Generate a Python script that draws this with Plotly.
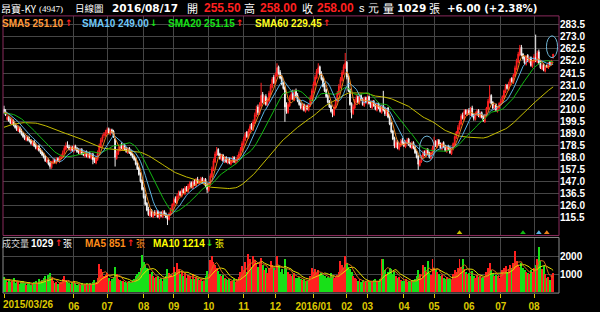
import numpy as np
import pandas as pd
import plotly.graph_objects as go

# ---------------- data ----------------
month_labels = ["2015/03/26", "", "", "06", "07", "08", "09", "10", "11", "12",
                "2016/01", "02", "03", "04", "05", "06", "07", "08"]
month_days = [4, 20, 20, 21, 23, 19, 22, 22, 20, 24, 21, 13, 23, 19, 22, 20, 21, 13]

price_ticks = [115.5, 126.0, 136.5, 147.0, 157.5, 168.0, 178.5, 189.0, 199.5,
               210.0, 220.5, 231.0, 241.5, 252.0, 262.5, 273.0, 283.5]
vol_ticks = [1000, 2000]

pre_close = [171, 173, 172, 175, 174, 177, 176, 178, 177, 179,
             180, 178, 181, 183, 182, 184, 185, 183, 186, 185,
             192, 191, 193, 195, 194, 196, 195, 197, 196, 198,
             197, 199, 198, 200, 199, 201, 200, 202, 201, 203,
             202, 204, 203, 205, 204, 206, 205, 207, 206, 208,
             207, 209, 208, 210, 206, 208, 205, 209, 208]

close = [207, 205, 203, 200, 198, 201, 196, 194, 192, 194,
         190, 188, 186, 184, 185, 183, 182, 180, 181, 178,
         176, 177, 174, 172, 170, 168, 165, 166, 162, 160,
         163, 165, 164, 166, 165, 167, 169, 172, 176, 178,
         177, 175, 176, 174, 177, 175, 173, 172, 174, 171,
         170, 172, 169, 171, 168, 170, 166, 164, 167, 172,
         178, 183, 186, 188, 190, 192, 189, 191, 190, 186,
         168, 172, 175, 177, 176, 178, 175, 173, 175, 172,
         170, 168, 166, 162, 158, 153, 147, 140, 133, 127,
         122, 118, 121, 117, 119, 118, 120, 116, 119, 117,
         120, 118, 116, 114, 119, 123, 127, 131, 129, 134,
         137, 135, 139, 137, 141, 139, 143, 145, 142, 146,
         144, 148, 146, 147, 149, 146, 148, 143, 140, 145,
         152, 158, 165, 171, 174, 170, 167, 169, 165, 167,
         164, 166, 163, 165, 167, 164, 166, 168, 171, 175,
         180, 184, 188, 186, 191, 195, 193, 199, 205, 210,
         207, 214, 222, 216, 220, 214, 218, 224, 230, 236,
         233, 240, 246, 241, 237, 232, 228, 212, 208, 214,
         220, 223, 219, 225, 221, 217, 214, 211, 213, 209,
         212, 210, 214, 220, 226, 232, 238, 243, 246, 240,
         236, 230, 226, 221, 216, 212, 208, 206, 212, 218,
         224, 230, 236, 242, 247, 250, 238, 226, 214, 207,
         212, 217, 220, 216, 221, 218, 214, 219, 216, 220,
         215, 212, 216, 213, 210, 214, 211, 208, 212, 209,
         206, 210, 203, 197, 190, 184, 178, 181, 176, 179,
         182, 180, 178, 181, 183, 179, 177, 180, 176, 172,
         168, 162, 165, 169, 172, 170, 174, 171, 168, 172,
         176, 181, 178, 182, 179, 176, 180, 177, 174, 177,
         175, 172, 176, 180, 186, 190, 194, 198, 204, 202,
         208, 206, 208, 206, 210, 204, 202, 206, 208, 204,
         206, 203, 200, 205, 211, 217, 221, 215, 211, 213,
         209, 212, 215, 217, 221, 226, 230, 228, 232, 236,
         234, 240, 246, 252, 258, 263, 257, 254, 250, 256,
         252, 254, 248, 252, 256, 252, 259, 250, 246, 248,
         244, 246.5, 247, 250, 248.5, 252, 258]

open_ = [210, 208, 201, 203, 200, 197, 200, 196, 195, 191,
         194, 191, 189, 187, 183, 186, 184, 183, 179, 182,
         179, 175, 178, 175, 173, 171, 169, 164, 166, 163,
         159, 163, 166, 163, 167, 164, 167, 168, 172, 175,
         179, 177, 174, 177, 173, 178, 176, 174, 171, 175,
         172, 169, 173, 168, 172, 167, 171, 167, 163, 166,
         171, 177, 182, 187, 187, 189, 193, 188, 192, 191,
         184, 167, 171, 174, 179, 175, 179, 176, 172, 176,
         173, 171, 169, 167, 163, 159, 154, 148, 141, 134,
         128, 123, 117, 122, 116, 120, 117, 121, 115, 120,
         116, 121, 119, 117, 114, 118, 122, 126, 132, 128,
         133, 138, 134, 140, 136, 142, 138, 142, 146, 141,
         147, 143, 149, 145, 146, 150, 145, 149, 144, 139,
         144, 151, 157, 164, 170, 175, 171, 166, 170, 164,
         168, 163, 167, 162, 164, 168, 163, 165, 167, 170,
         174, 179, 183, 190, 185, 190, 197, 192, 198, 204,
         212, 206, 213, 223, 215, 221, 213, 217, 223, 229,
         238, 232, 239, 247, 242, 238, 233, 229, 214, 207,
         213, 219, 224, 218, 226, 222, 218, 215, 210, 214,
         208, 213, 209, 213, 219, 225, 231, 237, 242, 247,
         241, 237, 231, 227, 222, 217, 213, 209, 205, 211,
         217, 223, 229, 235, 241, 246, 251, 239, 227, 215,
         206, 211, 216, 221, 215, 222, 219, 213, 220, 215,
         221, 216, 211, 217, 214, 209, 215, 212, 207, 213,
         210, 205, 211, 204, 198, 191, 185, 177, 182, 175,
         178, 183, 181, 177, 180, 184, 180, 176, 181, 177,
         173, 169, 161, 164, 168, 173, 169, 175, 172, 167,
         171, 175, 182, 177, 183, 180, 175, 181, 178, 173,
         178, 176, 171, 175, 179, 185, 189, 193, 197, 205,
         201, 209, 205, 209, 205, 211, 205, 201, 205, 209,
         203, 207, 204, 199, 204, 210, 216, 222, 216, 210,
         214, 208, 211, 214, 216, 220, 225, 231, 227, 231,
         237, 233, 239, 245, 251, 257, 264, 258, 255, 249,
         257, 251, 255, 247, 251, 255, 251, 260, 251, 245,
         249, 243, 248, 246, 251, 249, 255.5]

high = [213, 210, 205, 204, 202, 203, 201, 198, 196, 196,
        195, 193, 190, 188, 187, 187, 186, 184, 183, 183,
        181, 179, 179, 176, 174, 172, 170, 168, 167, 164,
        165, 167, 167, 168, 168, 169, 171, 174, 178, 181,
        182, 179, 178, 178, 179, 179, 177, 176, 176, 176,
        173, 174, 174, 173, 173, 172, 172, 168, 169, 174,
        180, 185, 188, 190, 192, 194, 194, 193, 193, 192,
        185, 174, 177, 179, 181, 180, 180, 177, 177, 177,
        175, 172, 170, 168, 164, 160, 155, 149, 142, 136,
        129, 125, 123, 123, 121, 122, 122, 122, 121, 121,
        122, 122, 120, 118, 120, 124, 128, 133, 134, 136,
        139, 139, 141, 141, 143, 143, 145, 147, 147, 148,
        149, 150, 151, 149, 151, 151, 150, 150, 145, 146,
        154, 160, 167, 173, 177, 176, 172, 171, 171, 169,
        169, 168, 168, 166, 169, 169, 167, 170, 173, 177,
        182, 186, 190, 191, 193, 197, 198, 201, 207, 213,
        214, 216, 233, 225, 222, 223, 220, 226, 232, 238,
        240, 242, 250, 248, 244, 240, 234, 230, 216, 216,
        222, 226, 227, 227, 228, 224, 219, 216, 215, 215,
        214, 214, 215, 222, 228, 234, 240, 245, 250, 248,
        243, 238, 233, 228, 223, 218, 214, 210, 214, 220,
        226, 232, 238, 244, 249, 259, 252, 240, 228, 216,
        214, 219, 223, 222, 223, 223, 220, 221, 221, 222,
        222, 217, 218, 218, 215, 216, 216, 213, 214, 226,
        212, 211, 212, 205, 199, 192, 186, 183, 183, 181,
        184, 185, 182, 183, 185, 185, 181, 182, 182, 178,
        174, 170, 166, 170, 174, 174, 176, 176, 173, 173,
        178, 186, 183, 184, 184, 181, 181, 182, 179, 178,
        179, 177, 177, 181, 187, 191, 196, 200, 206, 207,
        210, 210, 210, 211, 212, 213, 206, 208, 210, 210,
        208, 208, 205, 206, 212, 219, 231, 223, 217, 214,
        215, 213, 216, 219, 222, 227, 232, 232, 234, 237,
        238, 241, 248, 254, 260, 266, 266, 259, 256, 257,
        258, 256, 256, 253, 258, 275, 261, 262, 253, 250,
        250, 248, 249, 251, 252, 253, 258]

low = [206, 204, 200, 199, 197, 196, 195, 193, 191, 190,
       189, 187, 185, 183, 182, 182, 181, 179, 178, 177,
       175, 174, 173, 171, 169, 167, 164, 163, 161, 158,
       158, 162, 163, 162, 164, 163, 166, 167, 171, 174,
       176, 174, 173, 173, 172, 174, 172, 171, 170, 170,
       169, 168, 168, 167, 167, 166, 162, 163, 162, 165,
       170, 176, 181, 185, 186, 188, 188, 187, 189, 185,
       160, 166, 170, 173, 175, 174, 174, 172, 171, 171,
       169, 167, 165, 161, 157, 152, 146, 139, 132, 126,
       121, 117, 116, 116, 115, 117, 116, 115, 114, 116,
       115, 117, 115, 109, 113, 117, 121, 125, 128, 127,
       132, 134, 133, 136, 135, 138, 137, 141, 141, 140,
       143, 142, 145, 144, 145, 145, 144, 142, 137, 138,
       143, 150, 156, 163, 169, 169, 166, 165, 164, 163,
       163, 162, 162, 161, 163, 163, 162, 164, 166, 169,
       173, 178, 182, 185, 184, 189, 192, 191, 197, 203,
       205, 205, 212, 215, 214, 213, 212, 216, 222, 228,
       232, 231, 238, 240, 236, 231, 227, 199, 206, 206,
       212, 218, 218, 217, 220, 216, 213, 210, 209, 208,
       207, 209, 208, 212, 218, 224, 230, 236, 241, 239,
       235, 229, 225, 220, 215, 211, 207, 203, 204, 210,
       216, 222, 228, 234, 240, 245, 236, 225, 213, 202,
       205, 210, 215, 215, 214, 217, 213, 212, 215, 214,
       214, 211, 210, 212, 209, 208, 210, 207, 206, 208,
       204, 204, 202, 196, 189, 183, 176, 176, 175, 174,
       177, 179, 177, 176, 179, 178, 176, 175, 175, 171,
       167, 157, 160, 163, 167, 169, 168, 170, 167, 166,
       170, 174, 177, 176, 178, 175, 174, 176, 173, 172,
       174, 171, 170, 174, 178, 184, 188, 192, 196, 201,
       200, 205, 204, 205, 204, 203, 200, 200, 204, 203,
       202, 202, 199, 198, 203, 209, 215, 214, 210, 209,
       208, 207, 210, 213, 215, 219, 224, 227, 226, 230,
       233, 232, 238, 244, 250, 256, 256, 253, 249, 248,
       251, 250, 247, 246, 250, 251, 250, 249, 245, 244,
       243, 242, 246, 245, 248, 248, 254]

pre_volume = [700, 650, 820, 580, 900, 760, 620, 680, 740]

volume = [820, 640, 560, 700, 520, 610, 740, 480, 530, 600,
          450, 520, 610, 480, 390, 440, 520, 380, 460, 540,
          620, 480, 700, 560, 650, 760, 880, 540, 920, 1050,
          780, 620, 480, 520, 410, 460, 530, 720, 850, 640,
          520, 480, 410, 560, 620, 470, 390, 420, 350, 460,
          380, 420, 510, 360, 470, 380, 560, 640, 480, 760,
          1550, 1280, 1100, 860, 920, 1040, 780, 620, 710, 840,
          1380, 960, 720, 650, 580, 620, 540, 480, 520, 610,
          560, 640, 720, 850, 980, 1120, 1350, 2050, 1650, 1480,
          1320, 1250, 980, 1100, 860, 760, 820, 900, 680, 740,
          620, 780, 860, 1240, 1050, 920, 880, 1400, 1100, 1600,
          1250, 980, 1120, 860, 1020, 780, 940, 860, 720, 980,
          680, 820, 760, 640, 720, 580, 620, 900, 1150, 980,
          1780, 2000, 1650, 1500, 1320, 1180, 980, 860, 920, 780,
          720, 640, 680, 580, 620, 700, 560, 640, 820, 1100,
          1450, 1200, 1650, 1100, 2100, 1800, 1400, 2000, 1750, 1600,
          1400, 1650, 1900, 1500, 1200, 1350, 1050, 1300, 1700, 1500,
          1350, 1200, 2000, 1500, 1100, 1250, 980, 1800, 1350, 1100,
          980, 860, 920, 1050, 780, 740, 820, 680, 640, 720,
          600, 580, 640, 900, 1330, 1100, 1250, 1050, 1200, 980,
          1050, 920, 880, 760, 840, 780, 1020, 900, 760, 880,
          940, 1100, 1700, 1500, 1350, 2000, 1600, 1400, 1250, 1100,
          900, 760, 680, 620, 720, 560, 640, 520, 600, 540,
          620, 580, 520, 640, 720, 560, 600, 680, 1850, 1800,
          1200, 980, 1100, 1350, 1250, 1000, 1150, 880, 760, 820,
          640, 580, 620, 700, 540, 600, 520, 580, 640, 720,
          860, 1200, 980, 760, 1500, 1400, 1100, 1700, 1050, 920,
          1800, 1300, 1250, 1100, 980, 860, 920, 760, 700, 820,
          680, 720, 640, 980, 1200, 1100, 1300, 1850, 1400, 1800,
          1250, 1100, 980, 1050, 900, 1150, 860, 780, 940, 820,
          880, 760, 820, 900, 1100, 1350, 1600, 1200, 1000, 880,
          920, 860, 780, 1000, 1200, 1350, 1450, 1100, 1250, 1500,
          1300, 1600, 2280, 1700, 1500, 1400, 1600, 1300, 1200, 1100,
          1050, 980, 1200, 1100, 1350, 1500, 1800, 2480, 1700, 1275,
          1430, 1000, 780, 820, 676, 950, 1029]

# ---------------- derived ----------------
n = min(len(close), len(open_), len(high), len(low), len(volume))
close, open_, high, low, volume = close[:n], open_[:n], high[:n], low[:n], volume[:n]
xi = np.arange(n)

pc = pd.Series(pre_close + close, dtype=float)
P = len(pre_close)
sma = {k: pc.rolling(k).mean().to_numpy()[P:] for k in (5, 10, 20, 60)}
pv = pd.Series(pre_volume + volume, dtype=float)
Q = len(pre_volume)
vma5 = pv.rolling(5).mean().to_numpy()[Q:]
vma10 = pv.rolling(10).mean().to_numpy()[Q:]

starts = np.concatenate([[0], np.cumsum(month_days)[:-1]])
tick_idx = [int(s) for s, lab in zip(starts, month_labels) if lab]
tick_txt = [lab for lab in month_labels if lab]
tick_txt_axis = [""] + tick_txt[1:]   # first label drawn left-aligned separately

W, H = 600, 312
def fx(x): return x / W
def fy(y): return 1 - y / H

RED = "#ff2020"
WHITE = "#f4f4f4"
GREEN = "#18e018"
YEL = "#dcc800"
GRID = "#464646"
SMA_COL = {5: "#e8801a", 10: "#5ab2e2", 20: "#12b812", 60: "#c4bc00"}
SMA_TXT = {5: "#ff9a3c", 10: "#70c8f8", 20: "#18e018", 60: "#ffff20"}

XR = [-0.63, 349.7]
fig = go.Figure()

fig.add_trace(go.Candlestick(
    x=xi, open=open_, high=high, low=low, close=close,
    increasing=dict(line=dict(color=RED, width=1), fillcolor=RED),
    decreasing=dict(line=dict(color=WHITE, width=1), fillcolor=WHITE),
    whiskerwidth=0, xaxis="x", yaxis="y", showlegend=False, hoverinfo="skip"))

for k in (60, 20, 10, 5):
    fig.add_trace(go.Scatter(x=xi, y=sma[k], mode="lines",
                             line=dict(color=SMA_COL[k], width=1),
                             xaxis="x", yaxis="y", showlegend=False, hoverinfo="skip"))

# window-start markers of each MA
for k in (60, 20, 10, 5):
    fig.add_trace(go.Scatter(x=[n - k], y=[102.3], mode="markers",
                             marker=dict(symbol="triangle-up", size=5, color=SMA_COL[k]),
                             xaxis="x", yaxis="y", showlegend=False, hoverinfo="skip"))

vcol = [RED if c > o else (GREEN if c < o else WHITE) for o, c in zip(open_, close)]
fig.add_trace(go.Bar(x=xi, y=volume, marker=dict(color=vcol, line=dict(width=0)),
                     width=0.62, xaxis="x2", yaxis="y2", showlegend=False, hoverinfo="skip"))
fig.add_trace(go.Scatter(x=xi, y=vma10, mode="lines", line=dict(color="#e8e000", width=1),
                         xaxis="x2", yaxis="y2", showlegend=False, hoverinfo="skip"))
fig.add_trace(go.Scatter(x=xi, y=vma5, mode="lines", line=dict(color="#d07018", width=1),
                         xaxis="x2", yaxis="y2", showlegend=False, hoverinfo="skip"))

axfont = dict(family="Liberation Sans, Arial", size=10, color="white", weight="bold")
fig.update_layout(
    width=W, height=H, margin=dict(l=0, r=0, t=0, b=0),
    paper_bgcolor="black", plot_bgcolor="black", showlegend=False, bargap=0,
    xaxis=dict(domain=[fx(3), fx(559)], range=XR, tickvals=tick_idx, showticklabels=False,
               ticks="", showgrid=True, gridcolor=GRID, gridwidth=1, zeroline=False,
               rangeslider=dict(visible=False), anchor="y", showline=False),
    yaxis=dict(domain=[fy(237), fy(16)], range=[99.9, 291.3], side="right",
               tickvals=price_ticks, ticktext=[f"{v:.1f}" for v in price_ticks],
               tickfont=axfont, showgrid=True, gridcolor=GRID, zeroline=False,
               anchor="x", ticks="", showline=False),
    xaxis2=dict(domain=[fx(3), fx(559)], range=XR, tickvals=tick_idx, ticktext=tick_txt_axis,
                ticks="outside", ticklen=4, tickcolor=YEL, tickwidth=1,
                tickfont=dict(family="Liberation Sans, Arial", size=10, color=YEL, weight="bold"),
                showgrid=True, gridcolor=GRID, zeroline=False, anchor="y2", showline=False),
    yaxis2=dict(domain=[fy(295), fy(239)], range=[-55, 3055], side="right",
                tickvals=vol_ticks, ticktext=[str(v) for v in vol_ticks], tickfont=axfont,
                showgrid=True, gridcolor=GRID, zeroline=False, anchor="x2", ticks="",
                showline=False),
)

# panel borders
fig.add_shape(type="rect", xref="paper", yref="paper", x0=fx(3), x1=fx(559), y0=fy(237), y1=fy(16),
              line=dict(color="#8a2a5c", width=1))
fig.add_shape(type="rect", xref="paper", yref="paper", x0=fx(3), x1=fx(559), y0=fy(295), y1=fy(239),
              line=dict(color="#8c8c8c", width=1))

# highlight circles
fig.add_shape(type="circle", xref="x", yref="y", x0=261.8, x1=271.2, y0=164.0, y1=186.6,
              line=dict(color="#6fb6d6", width=1))
fig.add_shape(type="circle", xref="x", yref="y", x0=341.8, x1=348.8, y0=254.9, y1=273.9,
              line=dict(color="#6fb6d6", width=1))

LAT = "Liberation Sans, Arial"
CJK = "Noto Sans CJK TC"
DJ = "DejaVu Sans"

def txt(x, y, s, color="white", size=10, family=LAT, weight="normal"):
    fig.add_annotation(x=fx(x), y=fy(y), xref="paper", yref="paper", text=s, showarrow=False,
                       xanchor="left", yanchor="middle", borderpad=0,
                       font=dict(family=family, size=size, color=color, weight=weight))

# approximate advance widths (em) of Liberation Sans Bold
ADV = {"S": .667, "M": .833, "A": .722, " ": .278, ".": .278}
def width(s, size=10):
    return sum(ADV.get(ch, .556) for ch in s) * size

def arrow_txt(x, y, cur, prev):
    up = cur >= prev
    txt(x, y - 0.5, "↑" if up else "↓", color=RED if up else GREEN, size=9, family=DJ, weight="bold")

def entry(x, y, s, color, cur, prev, unit=None):
    txt(x, y, s, color=color, size=10, weight="bold")
    ax = x + width(s) + 1.5
    arrow_txt(ax, y, cur, prev)
    if unit:
        txt(ax + 8.5, y, unit, color=color, size=9, family=CJK)

# header
chg = close[-1] - close[-2]
pct = chg / close[-2] * 100
txt(0, 8.5, "昂寶-KY", size=10, family=CJK)
txt(38, 9, "(4947)", size=9, family="Liberation Serif")
txt(74, 8.5, "日線圖", size=9.5, family=CJK)
txt(111, 8.5, "2016/08/17", size=10.5, family=DJ, weight="bold")
txt(186, 8.5, "開", size=11, family=CJK)
txt(203, 8.5, f"{open_[-1]:.2f}", color=RED, size=12, weight="bold")
txt(243, 8.5, "高", size=11, family=CJK)
txt(259, 8.5, f"{high[-1]:.2f}", color=RED, size=12, weight="bold")
txt(301, 8.5, "收", size=11, family=CJK)
txt(316, 8.5, f"{close[-1]:.2f}", color=RED, size=12, weight="bold")
txt(358, 8.5, "s 元", size=11, family=LAT)
txt(382, 8.5, "量", size=11, family=CJK)
txt(396, 8.5, f"{volume[-1]}", size=10.5, family=DJ, weight="bold")
txt(428, 8.5, "張", size=11, family=CJK)
txt(446, 8.5, f"{chg:+.2f} ({pct:+.2f}%)", size=10.2, family=DJ, weight="bold")

# MA legend
leg_x = {5: 1, 10: 81, 20: 167, 60: 254}
for k in (5, 10, 20, 60):
    entry(leg_x[k], 23.5, f"SMA{k} {sma[k][-1]:.2f}", SMA_TXT[k], sma[k][-1], sma[k][-2])

# volume legend
txt(1, 245, "成交量", color="#d8d8d8", size=9, family=CJK)
entry(30, 245, f"{volume[-1]}", "white", volume[-1], volume[-2], "張")
entry(84, 245, f"MA5 {vma5[-1]:.0f}", "#ff8c1a", vma5[-1], vma5[-2], "張")
entry(152, 245, f"MA10 {vma10[-1]:.0f}", "#ffff00", vma10[-1], vma10[-2], "張")

# first date label (left aligned)
txt(2, 306.5, tick_txt[0], color=YEL, size=10, weight="bold")

fig.write_html("out.html")
